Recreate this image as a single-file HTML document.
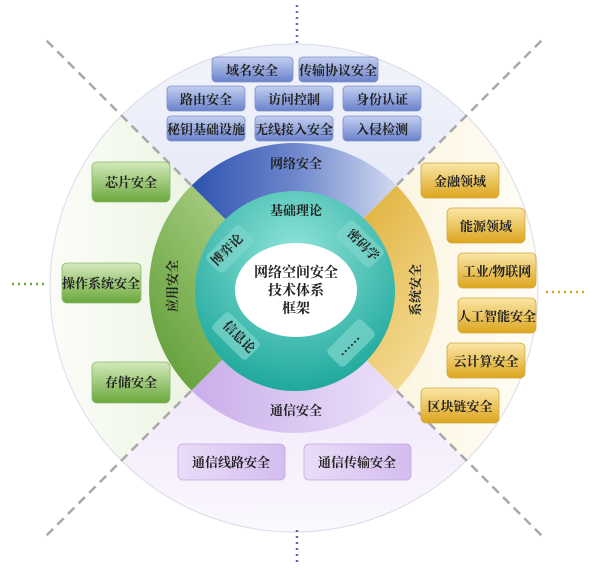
<!DOCTYPE html>
<html><head><meta charset="utf-8"><style>
html,body{margin:0;padding:0;background:#fff;width:600px;height:569px;overflow:hidden}
text{font-family:"Liberation Serif","Noto Serif CJK SC",serif;font-weight:bold;fill:#222}
</style></head><body>
<svg width="600" height="569" viewBox="0 0 600 569" xmlns="http://www.w3.org/2000/svg">
<defs>
<linearGradient id="oT" x1="0" y1="0" x2="0" y2="1"><stop offset="0" stop-color="#f2f4fb"/><stop offset="1" stop-color="#dfe4f5"/></linearGradient>
<linearGradient id="oR" x1="1" y1="0" x2="0" y2="0"><stop offset="0" stop-color="#fffdf6"/><stop offset="1" stop-color="#f8efd2"/></linearGradient>
<linearGradient id="oB" x1="0" y1="1" x2="0" y2="0"><stop offset="0" stop-color="#fbf8fe"/><stop offset="1" stop-color="#eadcf8"/></linearGradient>
<linearGradient id="oL" x1="0" y1="0" x2="1" y2="0"><stop offset="0" stop-color="#fbfdf8"/><stop offset="1" stop-color="#e2eed4"/></linearGradient>
<linearGradient id="mT" x1="0" y1="0" x2="1" y2="0"><stop offset="0" stop-color="#2e53b0"/><stop offset="0.5" stop-color="#6d86cc"/><stop offset="1" stop-color="#d2d9f0"/></linearGradient>
<linearGradient id="mR" x1="0" y1="0" x2="1" y2="1"><stop offset="0" stop-color="#d9a21a"/><stop offset="1" stop-color="#f7e2a4"/></linearGradient>
<linearGradient id="mB" x1="0" y1="0" x2="1" y2="0"><stop offset="0" stop-color="#c9aeea"/><stop offset="1" stop-color="#ece0f9"/></linearGradient>
<linearGradient id="mL" x1="0" y1="1" x2="1" y2="0"><stop offset="0" stop-color="#5a9a30"/><stop offset="1" stop-color="#c4e0a0"/></linearGradient>
<radialGradient id="teal" cx="0.5" cy="0.3" r="0.7"><stop offset="0" stop-color="#8fe3d8"/><stop offset="1" stop-color="#1fa89c"/></radialGradient>
<linearGradient id="bBlue" x1="0" y1="0" x2="0" y2="1"><stop offset="0" stop-color="#c4d0f0"/><stop offset="1" stop-color="#6a82cc"/></linearGradient>
<linearGradient id="bGreen" x1="0" y1="0" x2="0" y2="1"><stop offset="0" stop-color="#d4eabc"/><stop offset="1" stop-color="#6aa83c"/></linearGradient>
<linearGradient id="bGold" x1="0" y1="0" x2="0" y2="1"><stop offset="0" stop-color="#fbe7a8"/><stop offset="1" stop-color="#dca51e"/></linearGradient>
<linearGradient id="bPurp" x1="0" y1="0" x2="1" y2="0"><stop offset="0" stop-color="#eadcf8"/><stop offset="1" stop-color="#d4bcef"/></linearGradient>
</defs>
<path d="M294,288 L121.5,115.5 A244,244 0 0 1 466.5,115.5 Z" fill="url(#oT)"/>
<path d="M294,288 L466.5,115.5 A244,244 0 0 1 466.5,460.5 Z" fill="url(#oR)"/>
<path d="M294,288 L466.5,460.5 A244,244 0 0 1 121.5,460.5 Z" fill="url(#oB)"/>
<path d="M294,288 L121.5,460.5 A244,244 0 0 1 121.5,115.5 Z" fill="url(#oL)"/>
<circle cx="294" cy="288" r="244" fill="none" stroke="#d8dce8" stroke-width="1"/>
<g stroke="#a8a8a8" stroke-width="2.5" stroke-dasharray="9,6">
<line x1="191" y1="185" x2="45" y2="39"/>
<line x1="397" y1="185" x2="543" y2="39"/>
<line x1="397" y1="391" x2="545" y2="539"/>
<line x1="191" y1="391" x2="43" y2="539"/>
</g>
<path d="M294,288 L191.5,185.5 A145,145 0 0 1 396.5,185.5 Z" fill="url(#mT)"/>
<path d="M294,288 L396.5,185.5 A145,145 0 0 1 396.5,390.5 Z" fill="url(#mR)"/>
<path d="M294,288 L396.5,390.5 A145,145 0 0 1 191.5,390.5 Z" fill="url(#mB)"/>
<path d="M294,288 L191.5,390.5 A145,145 0 0 1 191.5,185.5 Z" fill="url(#mL)"/>
<circle cx="295" cy="291" r="100" fill="url(#teal)"/>
<ellipse cx="296" cy="290" rx="61" ry="47" fill="#fff"/>
<g stroke-width="2.5" stroke-dasharray="2,4">
<line x1="297" y1="5" x2="297" y2="45" stroke="#5a70c0"/>
<line x1="297" y1="530" x2="297" y2="566" stroke="#7a5aa8"/>
<line x1="12" y1="284" x2="48" y2="284" stroke="#6aa840"/>
<line x1="546" y1="292" x2="586" y2="292" stroke="#d8a820"/>
</g>
<g stroke="#8090c8" stroke-width="0.8">
<rect x="212" y="57" width="81" height="25" rx="4" fill="url(#bBlue)"/>
<rect x="299" y="57" width="79" height="25" rx="4" fill="url(#bBlue)"/>
<rect x="167" y="86" width="78" height="25" rx="4" fill="url(#bBlue)"/>
<rect x="255" y="86" width="78" height="25" rx="4" fill="url(#bBlue)"/>
<rect x="343" y="86" width="78" height="25" rx="4" fill="url(#bBlue)"/>
<rect x="167" y="116" width="78" height="25" rx="4" fill="url(#bBlue)"/>
<rect x="255" y="116" width="78" height="25" rx="4" fill="url(#bBlue)"/>
<rect x="343" y="116" width="78" height="25" rx="4" fill="url(#bBlue)"/>
</g>
<g font-size="13" text-anchor="middle">
<text x="252" y="75">域名安全</text>
<text x="338" y="75">传输协议安全</text>
<text x="206" y="104">路由安全</text>
<text x="294" y="104">访问控制</text>
<text x="382" y="104">身份认证</text>
<text x="206" y="134">秘钥基础设施</text>
<text x="294" y="134">无线接入安全</text>
<text x="382" y="134">入侵检测</text>
</g>
<g stroke="#8ab870" stroke-width="0.8">
<rect x="92" y="162" width="78" height="40" rx="5" fill="url(#bGreen)"/>
<rect x="62" y="263" width="79" height="40" rx="5" fill="url(#bGreen)"/>
<rect x="92" y="362" width="78" height="41" rx="5" fill="url(#bGreen)"/>
</g>
<g font-size="13" text-anchor="middle">
<text x="131" y="187">芯片安全</text>
<text x="101" y="288">操作系统安全</text>
<text x="131" y="387">存储安全</text>
</g>
<g stroke="#d0a840" stroke-width="0.8">
<rect x="421" y="163" width="78" height="35" rx="5" fill="url(#bGold)"/>
<rect x="447" y="208" width="78" height="35" rx="5" fill="url(#bGold)"/>
<rect x="458" y="253" width="78" height="35" rx="5" fill="url(#bGold)"/>
<rect x="458" y="298" width="78" height="35" rx="5" fill="url(#bGold)"/>
<rect x="447" y="343" width="78" height="35" rx="5" fill="url(#bGold)"/>
<rect x="421" y="388" width="78" height="35" rx="5" fill="url(#bGold)"/>
</g>
<g font-size="13" text-anchor="middle">
<text x="460" y="186">金融领域</text>
<text x="486" y="231">能源领域</text>
<text x="497" y="276">工业/物联网</text>
<text x="497" y="321">人工智能安全</text>
<text x="486" y="366">云计算安全</text>
<text x="460" y="411">区块链安全</text>
</g>
<g stroke="#c0a8e0" stroke-width="0.8">
<rect x="178" y="444" width="107" height="36" rx="5" fill="url(#bPurp)"/>
<rect x="304" y="444" width="107" height="36" rx="5" fill="url(#bPurp)"/>
</g>
<g font-size="13" text-anchor="middle">
<text x="231" y="467">通信线路安全</text>
<text x="357" y="467">通信传输安全</text>
</g>
<g font-size="13" text-anchor="middle">
<text x="296" y="168">网络安全</text>
<text x="296" y="415">通信安全</text>
<text x="296" y="215">基础理论</text>
<text transform="translate(177,286) rotate(-90)">应用安全</text>
<text transform="translate(420,290) rotate(-90)">系统安全</text>
</g>
<g fill="#7fd6cc" fill-opacity="0.7">
<rect x="-24" y="-12" width="48" height="24" rx="4" transform="translate(230,249) rotate(-45)"/>
<rect x="-24" y="-12" width="48" height="24" rx="4" transform="translate(360,244) rotate(45)"/>
<rect x="-24" y="-12" width="48" height="24" rx="4" transform="translate(236,336) rotate(45)"/>
<rect x="-24" y="-12" width="48" height="24" rx="4" transform="translate(351,343) rotate(-45)"/>
</g>
<g font-size="13" text-anchor="middle">
<text transform="translate(230,253) rotate(-45)">博弈论</text>
<text transform="translate(360,248) rotate(45)">密码学</text>
<text transform="translate(236,340) rotate(45)">信息论</text>
<text transform="translate(351,347) rotate(-45)">……</text>
</g>
<g font-size="14" text-anchor="middle">
<text x="296" y="277">网络空间安全</text>
<text x="296" y="295">技术体系</text>
<text x="296" y="313">框架</text>
</g>
</svg>
</body></html>
